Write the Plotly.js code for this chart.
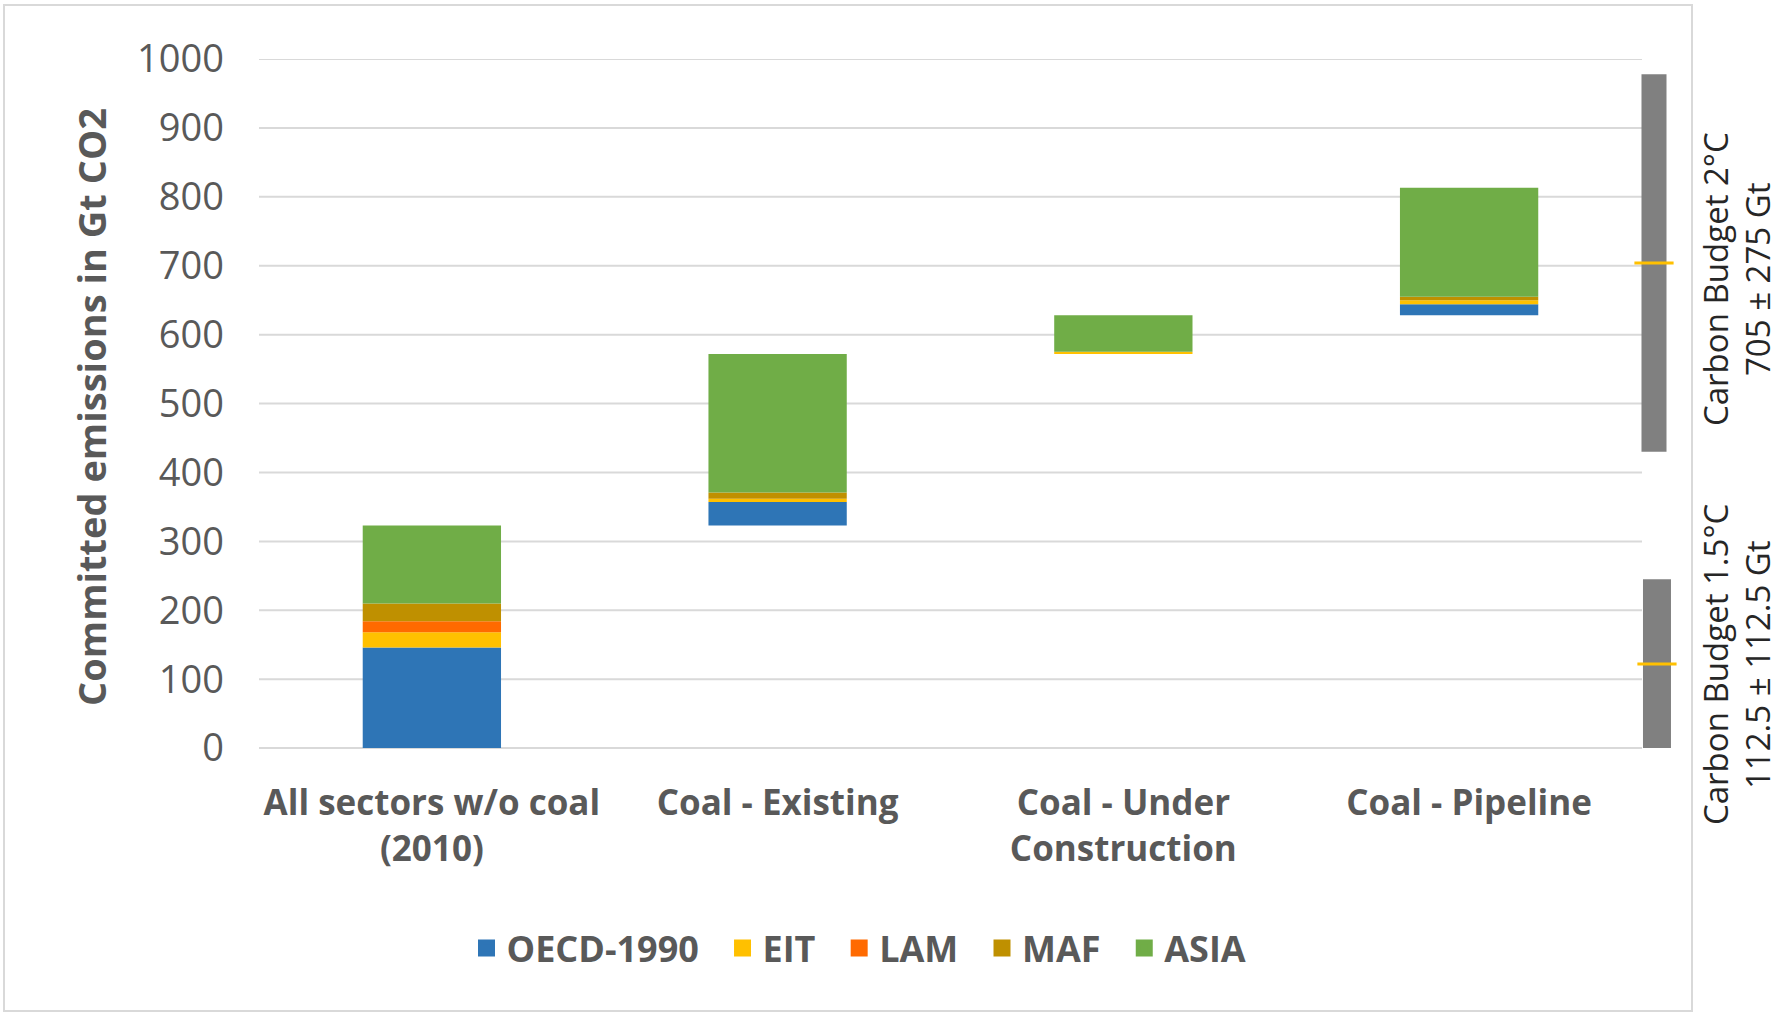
<!DOCTYPE html>
<html>
<head>
<meta charset="utf-8">
<script src="https://cdn.plot.ly/plotly-3.0.1.min.js"></script>
<style>html,body{margin:0;padding:0;background:#fff;}#chart{width:1784px;height:1016px;}</style>
</head>
<body>
<div id="chart"></div>
<script>
// ---- data ----
const categories = ["All sectors w/o coal<br>(2010)", "Coal - Existing", "Coal - Under<br>Construction", "Coal - Pipeline"];
const seriesNames = ["OECD-1990", "EIT", "LAM", "MAF", "ASIA"];
const oecd = [146, 34, 0, 16];
const eit  = [22, 5, 3, 6];
const lam  = [16, 0, 0, 0];
const maf  = [26, 9, 0, 5];
const asia = [113, 201, 53, 158];
const yTicks = [0, 100, 200, 300, 400, 500, 600, 700, 800, 900, 1000];
const budgetTitles = ["Carbon Budget 2°C", "Carbon Budget 1.5°C"];
const budgetRanges = ["705 ± 275 Gt", "112.5 ± 112.5 Gt"];
const budgetLow  = [430, 0];
const budgetHigh = [978, 245];
const budgetMid  = [704, 122];

// ---- styles ----
const colors = ["#2E75B6", "#FFC000", "#FF6A00", "#BF9000", "#70AD47"];
const FONT = "Open Sans, Liberation Sans, sans-serif";
const W = 1784, H = 1016;
const L = 259, R = 104, T = 59, B = 261;
const PW = W - L - R, PH = H - T - B;
const px2x = p => (p - L) / PW;
const px2y = p => (H - B - p) / PH;

// waterfall: each category starts where the previous ended
const series = [oecd, eit, lam, maf, asia];
const totals = categories.map((c, i) => series.reduce((s, a) => s + a[i], 0));
const starts = [];
let acc = 0;
totals.forEach((t, i) => { starts.push(acc); acc += t; });

const traces = [];
const running = starts.slice();
series.forEach((vals, k) => {
  const base = running.slice();
  vals.forEach((v, i) => { running[i] += v; });
  traces.push({
    type: "bar", x: categories, y: vals, base: base, name: seriesNames[k],
    marker: {color: colors[k]}, width: 0.4, showlegend: false, hoverinfo: "y+name"
  });
});
// legend-only entries (bigger icons, wider spacing)
series.forEach((vals, k) => {
  traces.push({
    type: "bar", x: [categories[0]], y: [null],
    name: seriesNames[k] + (k < series.length - 1 ? "\u00A0\u00A0" : ""),
    marker: {color: colors[k], line: {color: colors[k], width: 9}}, showlegend: true, hoverinfo: "skip"
  });
});
// carbon budgets on a hidden overlaid axis
const budgetX = [0.9817, 0.9838];
const budgetW = [0.0176, 0.0197];
traces.push({
  type: "bar", xaxis: "x2", x: budgetX, width: budgetW,
  y: budgetHigh.map((h, i) => h - budgetLow[i]), base: budgetLow,
  marker: {color: "#808080"}, showlegend: false, hoverinfo: "skip"
});
traces.push({
  type: "scatter", mode: "markers", xaxis: "x2", x: budgetX, y: budgetMid,
  marker: {symbol: "line-ew", size: 28, line: {color: "#FFC000", width: 3}},
  showlegend: false, hoverinfo: "skip"
});

const shapes = yTicks.map(v => ({
  type: "line", xref: "paper", yref: "y", x0: 0, x1: px2x(1642), y0: v, y1: v,
  line: {color: "#D9D9D9", width: 2}, layer: "below"
}));
shapes.push({
  type: "rect", xref: "paper", yref: "paper",
  x0: px2x(4), x1: px2x(1692), y0: px2y(1011), y1: px2y(5),
  line: {color: "#D9D9D9", width: 2}, layer: "below"
});

const budgetY = [279, 665];
const annotations = [];
budgetTitles.forEach((t, i) => {
  annotations.push({
    text: t, xref: "paper", yref: "paper", x: px2x(1715), y: px2y(budgetY[i]),
    xanchor: "center", yanchor: "middle", textangle: -90, showarrow: false,
    font: {family: FONT, size: 33, color: "#262626"}
  });
  annotations.push({
    text: budgetRanges[i], xref: "paper", yref: "paper", x: px2x(1757), y: px2y(budgetY[i]),
    xanchor: "center", yanchor: "middle", textangle: -90, showarrow: false,
    font: {family: FONT, size: 33, color: "#262626"}
  });
});

const layout = {
  width: W, height: H,
  margin: {l: L, r: R, t: T, b: B},
  paper_bgcolor: "#fff", plot_bgcolor: "rgba(0,0,0,0)",
  barmode: "overlay",
  showlegend: true,
  legend: {
    orientation: "h", x: px2x(859), xanchor: "center", y: px2y(948), yanchor: "middle",
    font: {family: FONT, size: 36, color: "#595959", weight: "bold"},
    itemwidth: 30, traceorder: "normal"
  },
  xaxis: {
    type: "category", range: [-0.5, 3.61], showgrid: false, zeroline: false, showline: false,
    ticks: "", ticklabelstandoff: 24,
    tickfont: {family: FONT, size: 35, color: "#595959", weight: "bold"}
  },
  xaxis2: {overlaying: "x", range: [0, 1], visible: false},
  yaxis: {
    range: [-10, 1000], tickvals: yTicks, showgrid: false, zeroline: false, showline: false,
    ticks: "", ticklabelstandoff: 34,
    tickfont: {family: FONT, size: 38, color: "#595959"},
    title: {text: "Committed emissions in Gt CO2", standoff: 18,
            font: {family: FONT, size: 38, color: "#595959", weight: "bold"}}
  },
  shapes: shapes,
  annotations: annotations
};

Plotly.newPlot("chart", traces, layout, {displayModeBar: false, staticPlot: true});
</script>
</body>
</html>
